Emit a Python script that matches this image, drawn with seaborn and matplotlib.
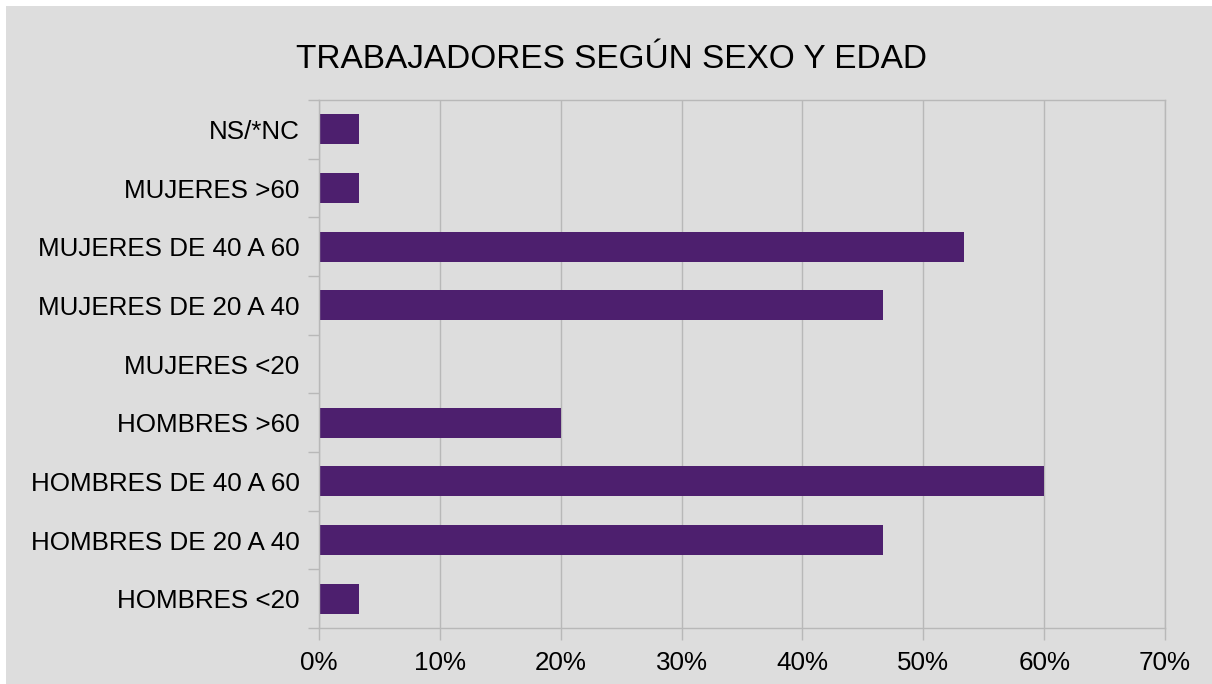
import matplotlib
matplotlib.use("Agg")
import matplotlib.pyplot as plt
import matplotlib.patches as mpatches
from matplotlib.ticker import FixedLocator, FuncFormatter
import seaborn as sns
import pandas as pd

categorias = [
    "NS/*NC",
    "MUJERES >60",
    "MUJERES DE 40 A 60",
    "MUJERES DE 20 A 40",
    "MUJERES <20",
    "HOMBRES >60",
    "HOMBRES DE 40 A 60",
    "HOMBRES DE 20 A 40",
    "HOMBRES <20",
]
porcentajes = [3.33, 3.33, 53.33, 46.67, 0.0, 20.0, 60.0, 46.67, 3.33]
ticks_x = [0, 10, 20, 30, 40, 50, 60, 70]

df = pd.DataFrame({"categoria": categorias, "porcentaje": porcentajes})

sns.set_style("white")
plt.rcParams["font.family"] = ["Liberation Sans", "DejaVu Sans"]

gris_fondo = "#dddddd"
gris_linea = "#b8b8b8"

fig = plt.figure(figsize=(12.12, 6.84), dpi=100)
fig.patch.set_facecolor("white")
# fondo gris con borde blanco arriba y a la izquierda
fig.patches.append(mpatches.Rectangle((6 / 1212, -0.01), 1.0, 1.01 - 6 / 684,
                                      transform=fig.transFigure, facecolor=gris_fondo,
                                      edgecolor="none", zorder=-10))
ax = fig.add_axes([319 / 1212, 1 - 628 / 684, (1165 - 319) / 1212, (628 - 100) / 684])
ax.set_facecolor(gris_fondo)

sns.barplot(data=df, x="porcentaje", y="categoria", order=categorias,
            color="#4d1f6e", saturation=1, width=0.51, orient="h",
            linewidth=0, ax=ax)

ax.set_xlim(0, 70)
ax.set_ylim(len(categorias) - 0.5, -0.5)
ax.xaxis.set_major_locator(FixedLocator(ticks_x))
ax.xaxis.set_major_formatter(FuncFormatter(lambda v, p: f"{v:.0f}%"))
ax.grid(axis="x", color=gris_linea, linewidth=1)
ax.set_axisbelow(True)

ax.set_xlabel("")
ax.set_ylabel("")
for s in ax.spines.values():
    s.set_color(gris_linea)
    s.set_linewidth(1)

ax.yaxis.set_minor_locator(FixedLocator([i - 0.5 for i in range(len(categorias) + 1)]))
ax.tick_params(axis="y", which="major", length=0, pad=14, labelsize=18.7, labelcolor="black")
ax.tick_params(axis="y", which="minor", length=8, width=1, color=gris_linea, left=True)
ax.tick_params(axis="x", which="major", length=8.5, width=1, color=gris_linea,
               pad=8, labelsize=18.7, labelcolor="black", bottom=True)

fig.text(611 / 1212, 1 - 60 / 684, "TRABAJADORES SEGÚN SEXO Y EDAD", ha="center",
         va="center", fontsize=24, color="black")

fig.savefig("out.png", dpi=100, facecolor=fig.get_facecolor())
